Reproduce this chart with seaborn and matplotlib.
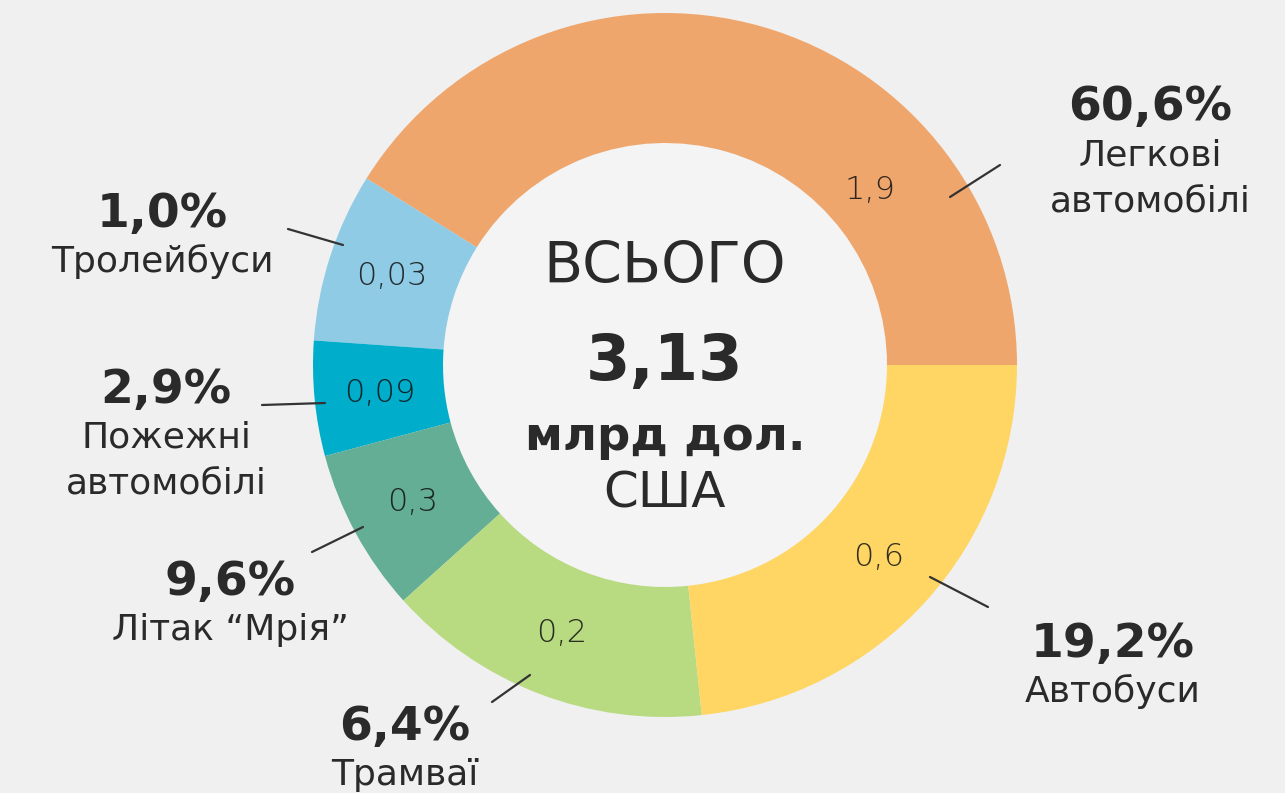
import numpy as np
import matplotlib
matplotlib.use('Agg')
import matplotlib.pyplot as plt
from matplotlib.patches import Circle
import seaborn as sns

# data
categories = ['Легкові\nавтомобілі', 'Тролейбуси', 'Пожежні\nавтомобілі',
              'Літак “Мрія”', 'Трамваї', 'Автобуси']
values = ['1,9', '0,03', '0,09', '0,3', '0,2', '0,6']
percents = ['60,6%', '1,0%', '2,9%', '9,6%', '6,4%', '19,2%']
total = '3,13'
# arc of each wedge as drawn in the picture (degrees), the infographic is not to scale
arc_degrees = [148, 28, 19, 27, 54, 84]
colors = ['#EFA66C', '#8FCBE5', '#00ADCA', '#63AE94', '#B8DA81', '#FFD664']

W, H = 1285, 793
BG = '#F0F0F0'
INK = '#2A2A2A'

sns.set_theme(style='white')
plt.rcParams['font.family'] = ['DejaVu Sans']

def py(y):
    # picture rows run downwards, axes y runs upwards
    return H - y

fig = plt.figure(figsize=(W / 100, H / 100), dpi=100, facecolor=BG)
ax = fig.add_axes([0, 0, 1, 1])
ax.set_facecolor(BG)

cx, cy, r_out, ring = 665, py(365), 352, 130
wedges, _ = ax.pie(arc_degrees, colors=colors, startangle=0, counterclock=True,
                   center=(cx, cy), radius=r_out,
                   wedgeprops=dict(width=ring, linewidth=0))
ax.add_patch(Circle((cx, cy), r_out - ring, fc='#F4F4F4', ec='none', zorder=0.5))

ax.set_xlim(0, W)
ax.set_ylim(0, H)
ax.set_aspect('equal')
ax.axis('off')

# value labels inside the ring
for i, w in enumerate(wedges):
    ang = (w.theta1 + w.theta2) / 2
    rr = r_out - ring / 2
    if i == 0:
        ang, rr = 40.5, 270
    x = cx + rr * np.cos(np.radians(ang))
    y = cy + rr * np.sin(np.radians(ang))
    ax.text(x, y, values[i], ha='center', va='center', fontsize=23,
            fontweight='light', color='#101010', alpha=0.85)

# callouts: (center x, baseline of percent) and leader line ends, in picture pixels
callouts = [(1150, 120), (162, 227), (166, 403), (230, 595), (405, 740), (1113, 657)]
leaders = [((950, 197), (1000, 165)), ((288, 229), (343, 245)),
           ((262, 405), (325, 403)), ((312, 552), (363, 527)),
           ((492, 702), (530, 675)), ((930, 577), (988, 607))]

for i in range(len(categories)):
    x, yb = callouts[i]
    ax.text(x, py(yb), percents[i], ha='center', va='baseline',
            fontsize=34, fontweight='bold', color=INK)
    for k, line in enumerate(categories[i].split('\n')):
        ax.text(x, py(yb + 45 + 46 * k), line, ha='center', va='baseline',
                fontsize=26, color=INK)
    (x0, y0), (x1, y1) = leaders[i]
    ax.plot([x0, x1], [py(y0), py(y1)], color='#333333', lw=1.6,
            solid_capstyle='round')

# centre text
ax.text(cx, py(283), 'ВСЬОГО', ha='center', va='baseline', fontsize=41, color=INK)
ax.text(cx, py(380), total, ha='center', va='baseline', fontsize=46,
        fontweight='bold', color=INK)
ax.text(cx, py(450), 'млрд дол.', ha='center', va='baseline', fontsize=33.5,
        fontweight='bold', color=INK)
ax.text(cx, py(508), 'США', ha='center', va='baseline', fontsize=36, color=INK)

fig.savefig('out.png', dpi=100, facecolor=BG)
